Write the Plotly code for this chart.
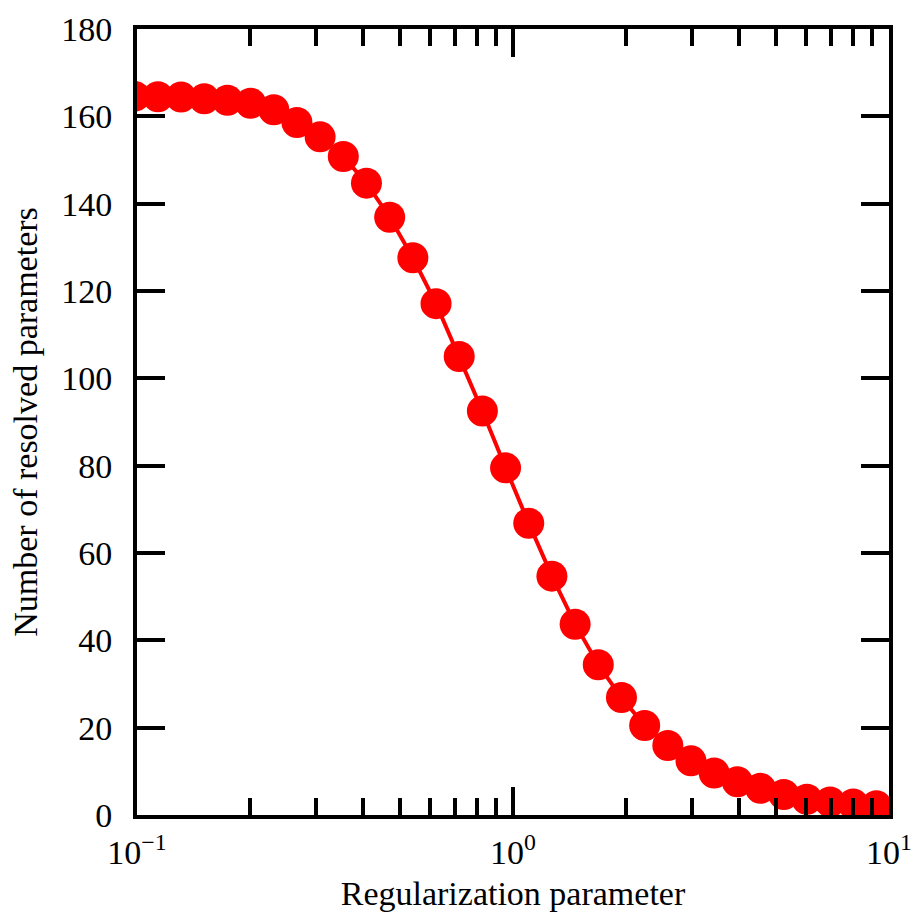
import plotly.graph_objects as go

# Regularization parameter values (log-spaced sweep)
reg_param = [
    0.0986, 0.1137, 0.1310, 0.1510, 0.1740, 0.2005, 0.2311, 0.2663,
    0.3069, 0.3537, 0.4076, 0.4699, 0.5416, 0.6242, 0.7194, 0.8290,
    0.9555, 1.1012, 1.2691, 1.4630, 1.6857, 1.9429, 2.2397, 2.5808,
    2.9744, 3.4277, 3.9510, 4.5530, 5.2480, 6.0480, 6.9700, 8.0320,
    9.2570,
]

# Number of resolved parameters at each regularization value
n_resolved = [
    164.6, 164.5, 164.4, 164.0, 163.7, 163.0, 161.5, 158.6,
    155.3, 150.8, 144.7, 136.9, 127.6, 117.1, 105.0, 92.5,
    79.5, 66.8, 54.7, 43.7, 34.4, 26.9, 20.5, 15.9,
    12.4, 9.6, 7.6, 6.1, 4.7, 3.6, 3.0, 2.5,
    2.1,
]

x_tick_vals = [0.1, 1, 10]
x_tick_text = ["10<sup>\u22121</sup>", "10<sup>0</sup>", "10<sup>1</sup>"]
x_minor_vals = [0.2, 0.3, 0.4, 0.5, 0.6, 0.7, 0.8, 0.9,
                2, 3, 4, 5, 6, 7, 8, 9]
y_tick_vals = [0, 20, 40, 60, 80, 100, 120, 140, 160, 180]

FONT = "Liberation Serif"
FONT_SIZE = 34
RED = "#ff0000"

fig = go.Figure()
fig.add_trace(go.Scatter(
    x=reg_param,
    y=n_resolved,
    mode="lines+markers",
    line=dict(color=RED, width=4),
    marker=dict(color=RED, size=31, line=dict(width=0)),
    cliponaxis=True,
    showlegend=False,
))

fig.update_layout(
    width=918,
    height=918,
    margin=dict(l=137, r=29, t=29, b=103, autoexpand=False),
    paper_bgcolor="white",
    plot_bgcolor="white",
    font=dict(family=FONT, size=FONT_SIZE, color="black"),
)

fig.update_xaxes(
    type="log",
    range=[-1, 1],
    automargin=False,
    tickmode="array",
    tickvals=x_tick_vals,
    ticktext=x_tick_text,
    ticks="inside",
    ticklen=28,
    tickwidth=4,
    tickcolor="black",
    minor=dict(tickmode="array", tickvals=x_minor_vals, ticks="inside",
               ticklen=17, tickwidth=4, tickcolor="black", showgrid=False),
    showline=True,
    linewidth=4,
    linecolor="black",
    mirror="allticks",
    showgrid=False,
    zeroline=False,
    tickfont=dict(family=FONT, size=FONT_SIZE, color="black"),
    ticklabelstandoff=4,
    title=dict(text="Regularization parameter",
               font=dict(family=FONT, size=FONT_SIZE, color="black"),
               standoff=12),
)

fig.update_yaxes(
    range=[0, 180],
    automargin=False,
    tickmode="array",
    tickvals=y_tick_vals,
    ticks="inside",
    ticklen=28,
    tickwidth=4,
    tickcolor="black",
    showline=True,
    linewidth=4,
    linecolor="black",
    mirror="allticks",
    showgrid=False,
    zeroline=False,
    tickfont=dict(family=FONT, size=FONT_SIZE, color="black"),
    ticklabelstandoff=14,
    title=dict(text="Number of resolved parameters",
               font=dict(family=FONT, size=FONT_SIZE, color="black"),
               standoff=14),
)

fig.write_html("out.html")
